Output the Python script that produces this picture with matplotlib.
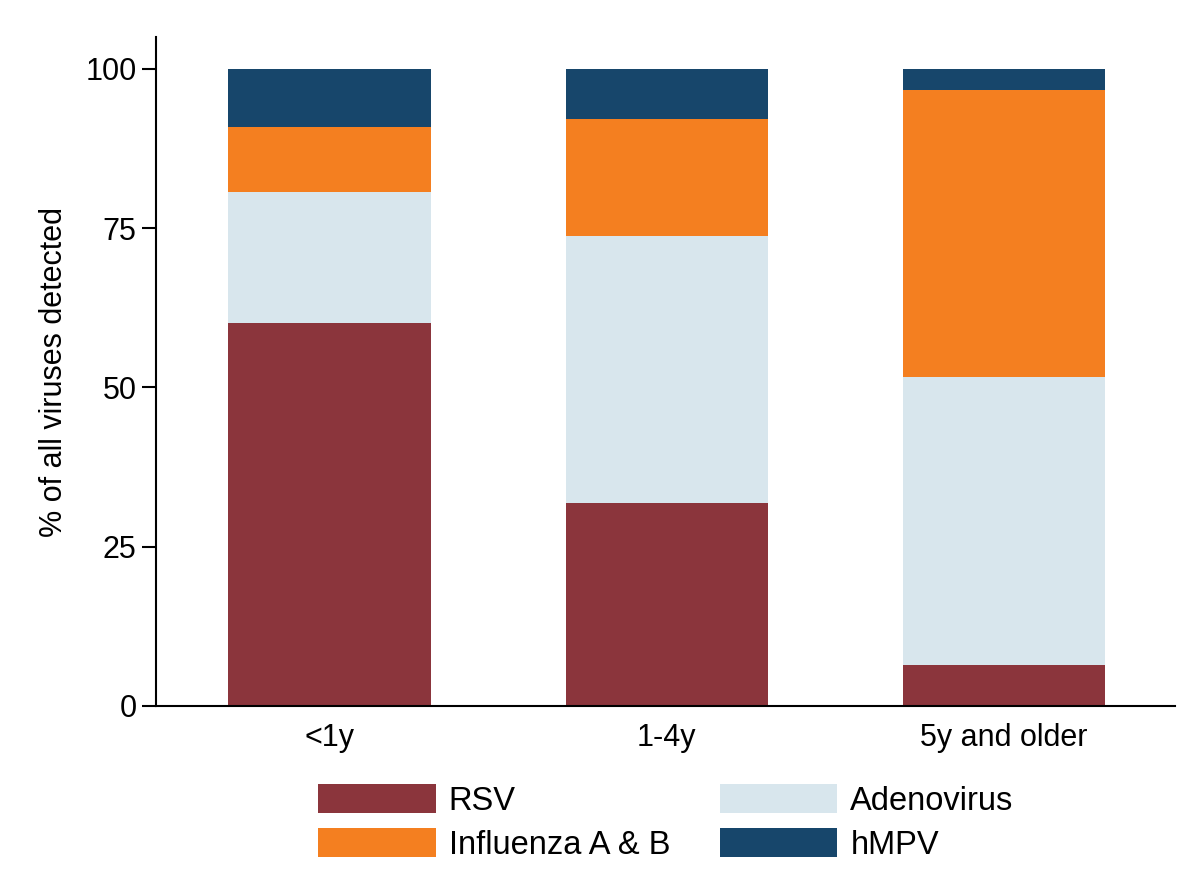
import matplotlib
matplotlib.use("Agg")
import matplotlib.pyplot as plt
import numpy as np

plt.rcParams["font.family"] = ["Liberation Sans", "DejaVu Sans"]

# 데이터 (그림에서 읽은 값, %)
age_groups = ["<1y", "1-4y", "5y and older"]
series = ["RSV", "Adenovirus", "Influenza A & B", "hMPV"]
rsv        = [60.1, 31.9, 6.4]
adenovirus = [20.6, 41.9, 45.2]
influenza  = [10.2, 18.4, 45.1]
hmpv       = [9.1, 7.8, 3.3]
colors = ["#8B353C", "#D8E6ED", "#F47F20", "#17466B"]

FS = 22

fig = plt.figure(figsize=(12, 8.83), dpi=100)
ax = fig.add_axes([0.13, 0.2005, 0.849, 0.7575])

x = np.arange(len(age_groups))
bottom = np.zeros(len(age_groups))
handles = {}
for name, vals, c in zip(series, [rsv, adenovirus, influenza, hmpv], colors):
    h = ax.bar(x, vals, width=0.6, bottom=bottom, color=c, label=name)
    handles[name] = h
    bottom += np.array(vals)

ax.set_xlim(-0.514, 2.506)
ax.set_ylim(0, 105)
ax.set_yticks([0, 25, 50, 75, 100])
ax.set_xticks(x)
ax.set_xticklabels(age_groups)
ax.tick_params(axis="y", labelsize=FS, length=10, width=1.5, pad=4)
ax.tick_params(axis="x", labelsize=FS, length=0, pad=12)
ax.set_ylabel("% of all viruses detected", fontsize=FS, labelpad=12)
for s in ["top", "right"]:
    ax.spines[s].set_visible(False)
for s in ["left", "bottom"]:
    ax.spines[s].set_linewidth(1.5)

# 범례: 2열, 순서 RSV / Influenza, Adenovirus / hMPV
order = ["RSV", "Influenza A & B", "Adenovirus", "hMPV"]
fig.legend([handles[n] for n in order], order, ncol=2, frameon=False,
           loc="lower center", bbox_to_anchor=(0.555, -0.008), fontsize=23.5,
           handlelength=3.59, handleheight=1.01, handletextpad=0.4,
           columnspacing=1.53, labelspacing=0.34)

fig.savefig("out.png", dpi=100)
